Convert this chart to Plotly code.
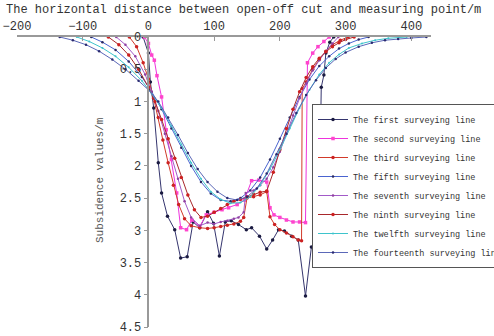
import plotly.graph_objects as go

# ---- data ----
series_names = [
    "The first surveying line",
    "The second surveying line",
    "The third surveying line",
    "The fifth surveying line",
    "The seventh surveying line",
    "The ninth surveying line",
    "The twelfth surveying line",
    "The fourteenth surveying line",
]

first_x = [-8, 0, 3, 8, 15, 20, 29, 40, 49, 59, 68, 78, 90, 99, 108, 117, 126, 137, 149, 157, 169, 180, 189, 198, 207, 218, 228, 239, 248, 259, 263, 267, 270, 276, 282]
first_y = [0, 0.25, 0.7, 1.1, 1.95, 2.42, 2.78, 2.99, 3.43, 3.41, 2.87, 2.96, 2.71, 2.89, 3.4, 2.87, 2.85, 2.91, 2.99, 2.96, 3.09, 3.29, 3.15, 2.99, 3.01, 3.09, 3.15, 4.02, 3.26, 3.35, 0.78, 0.59, 0.25, 0.08, 0]

second_x = [-6, 0, 5, 9, 13, 20, 27, 35, 43, 49, 58, 66, 78, 88, 100, 112, 122, 135, 146, 157, 168, 180, 185, 191, 200, 210, 220, 230, 239, 242, 250, 258, 267, 275]
second_y = [0, 0.1, 0.28, 0.36, 0.6, 0.93, 1.44, 1.9, 2.42, 2.96, 2.99, 2.84, 2.94, 2.76, 2.72, 2.68, 2.65, 2.6, 2.53, 2.23, 2.22, 2.25, 2.65, 2.76, 2.8, 2.84, 2.87, 2.87, 2.88, 0.4, 0.25, 0.15, 0.07, 0]

third_x = [-29, -18, -8, 0, 8, 15, 22, 30, 38, 46, 55, 65, 78, 90, 100, 110, 120, 130, 140, 145, 150, 160, 170, 180, 185, 192, 200, 210, 220, 228, 233, 234, 240, 250, 260, 270, 280, 292, 304]
third_y = [0, 0.15, 0.4, 0.65, 0.95, 1.25, 1.6, 1.95, 2.3, 2.6, 2.82, 2.93, 2.96, 2.97, 2.96, 2.94, 2.92, 2.9, 2.86, 2.8, 2.5, 2.48, 2.45, 2.4, 2.79, 2.91, 2.99, 3.04, 3.1, 3.15, 3.16, 0.8, 0.7, 0.5, 0.35, 0.22, 0.12, 0.05, 0]

fifth_x = [-87, -70, -50, -30, -10, 5, 20, 35, 50, 65, 80, 95, 110, 125, 140, 155, 170, 185, 200, 215, 230, 245, 260, 275, 290, 305, 320, 335]
fifth_y = [0, 0.08, 0.2, 0.38, 0.62, 0.85, 1.12, 1.42, 1.72, 2.0, 2.25, 2.43, 2.53, 2.55, 2.5, 2.38, 2.18, 1.9, 1.58, 1.25, 0.93, 0.66, 0.45, 0.3, 0.18, 0.1, 0.04, 0]

seventh_x = [-49, -35, -20, -5, 5, 15, 25, 35, 45, 55, 65, 78, 90, 100, 110, 120, 130, 137, 145, 148, 160, 170, 180, 190, 200, 210, 220, 230, 240, 250, 260, 270, 280, 289]
seventh_y = [0, 0.12, 0.3, 0.58, 0.85, 1.15, 1.5, 1.85, 2.2, 2.55, 2.8, 2.93, 2.88, 2.9, 2.87, 2.85, 2.82, 2.8, 2.72, 2.42, 2.38, 2.3, 2.2, 2.02, 1.78, 1.5, 1.22, 0.95, 0.72, 0.52, 0.36, 0.22, 0.1, 0]

ninth_x = [-61, -45, -30, -15, 0, 10, 20, 30, 40, 50, 60, 70, 80, 90, 100, 110, 120, 130, 140, 150, 160, 170, 180, 190, 200, 210, 220, 230, 240, 250, 260, 270, 280, 290, 300, 313]
ninth_y = [0, 0.12, 0.28, 0.5, 0.78, 1.0, 1.28, 1.58, 1.88, 2.18, 2.45, 2.68, 2.8, 2.78, 2.72, 2.66, 2.6, 2.55, 2.52, 2.48, 2.44, 2.41, 2.39, 2.1, 1.75, 1.42, 1.12, 0.85, 0.63, 0.46, 0.33, 0.23, 0.15, 0.09, 0.04, 0]

twelfth_x = [-109, -90, -70, -50, -30, -10, 5, 20, 35, 50, 65, 80, 95, 110, 125, 140, 155, 170, 185, 200, 215, 230, 245, 260, 275, 290, 305, 325, 345, 365, 393]
twelfth_y = [0, 0.07, 0.17, 0.3, 0.47, 0.68, 0.88, 1.1, 1.38, 1.67, 1.95, 2.2, 2.4, 2.52, 2.58, 2.57, 2.48, 2.3, 2.05, 1.75, 1.42, 1.1, 0.82, 0.58, 0.4, 0.27, 0.17, 0.1, 0.05, 0.02, 0]

fourteenth_x = [-135, -115, -95, -75, -55, -35, -15, 0, 15, 30, 45, 60, 75, 90, 105, 120, 135, 150, 165, 180, 195, 210, 225, 240, 255, 270, 285, 300, 320, 340, 360, 380, 400, 423]
fourteenth_y = [0, 0.05, 0.12, 0.22, 0.35, 0.5, 0.68, 0.82, 1.0, 1.25, 1.52, 1.8, 2.05, 2.25, 2.4, 2.5, 2.53, 2.48, 2.35, 2.12, 1.82, 1.5, 1.18, 0.9, 0.67, 0.48, 0.34, 0.24, 0.15, 0.09, 0.05, 0.03, 0.015, 0]

x_ticks = [-200, -100, 0, 100, 200, 300, 400]
y_ticks = [0, 0.5, 1, 1.5, 2, 2.5, 3, 3.5, 4, 4.5]
y_tick_text = ["0", "0.5", "1", "1.5", "2", "2.5", "3", "3.5", "4", "4.5"]

xs = [first_x, second_x, third_x, fifth_x, seventh_x, ninth_x, twelfth_x, fourteenth_x]
ys = [first_y, second_y, third_y, fifth_y, seventh_y, ninth_y, twelfth_y, fourteenth_y]

line_colors = ["#35356e", "#ee33dd", "#d23a2a", "#4a64d0", "#a25ac8", "#a8282c", "#3ec4cc", "#5b68b8"]
marker_colors = ["#1a1a40", "#ff44cc", "#cc2222", "#2a2a60", "#9040a0", "#cc2020", "#3ec4cc", "#2a2a70"]
marker_symbols = ["circle", "square", "circle", "circle", "circle", "circle", "circle", "circle"]
marker_sizes = [3.5, 3.5, 3.5, 2.5, 2.5, 3.5, 2, 2.5]

FONT = "Liberation Mono"

fig = go.Figure()
for name, x, y, lc, mc, ms, sz in zip(series_names, xs, ys, line_colors, marker_colors, marker_symbols, marker_sizes):
    fig.add_trace(go.Scatter(
        x=x, y=y, name=name, mode="lines+markers",
        line=dict(color=lc, width=1),
        marker=dict(color=mc, symbol=ms, size=sz, line=dict(width=0)),
    ))

x_min, x_max = -200, 430
PL, PR, PT, PB = 17, 431, 37, 327  # plot area in pixels
pw, ph = PR - PL, PB - PT

fig.update_layout(
    width=494, height=336,
    margin=dict(l=PL, r=494 - PR, t=PT, b=336 - PB, autoexpand=False),
    paper_bgcolor="white", plot_bgcolor="white",
    font=dict(family=FONT, size=12, color="#333"),
    showlegend=True,
    legend=dict(
        x=(312 - PL) / pw, y=(PB - 104) / ph, xanchor="left", yanchor="top",
        bgcolor="white", bordercolor="#555", borderwidth=1,
        font=dict(family=FONT, size=8.5, color="#333"),
        tracegroupgap=0, itemwidth=30,
    ),
    xaxis=dict(
        range=[x_min, x_max], side="top", tickvals=x_ticks,
        showgrid=False, zeroline=False, showline=True, linecolor="#999", linewidth=1.5,
        ticks="inside", ticklen=4, tickcolor="#999",
        tickfont=dict(family=FONT, size=12, color="#333"),
    ),
    yaxis=dict(
        range=[4.5, 0], tickvals=y_ticks, ticktext=y_tick_text,
        anchor="free", position=(0 - x_min) / (x_max - x_min),
        showgrid=False, zeroline=False, showline=True, linecolor="#999", linewidth=1.5,
        ticks="outside", ticklen=4, tickcolor="#999",
        tickfont=dict(family=FONT, size=12, color="#333"),
    ),
    annotations=[
        dict(text="The horizontal distance between open-off cut and measuring point/m",
             xref="paper", yref="paper", x=(243 - PL) / pw, y=(PB - 10) / ph,
             xanchor="center", yanchor="middle", showarrow=False,
             font=dict(family=FONT, size=12, color="#333")),
        dict(text="Subsidence values/m", textangle=-90,
             xref="paper", yref="paper", x=(100 - PL) / pw, y=(PB - 180) / ph,
             xanchor="center", yanchor="middle", showarrow=False,
             font=dict(family=FONT, size=11, color="#555")),
    ],
)

fig.write_html(
    "out.html",
    config={"displayModeBar": False},
    post_script="document.body.style.margin='0';document.body.style.overflow='hidden';",
)
